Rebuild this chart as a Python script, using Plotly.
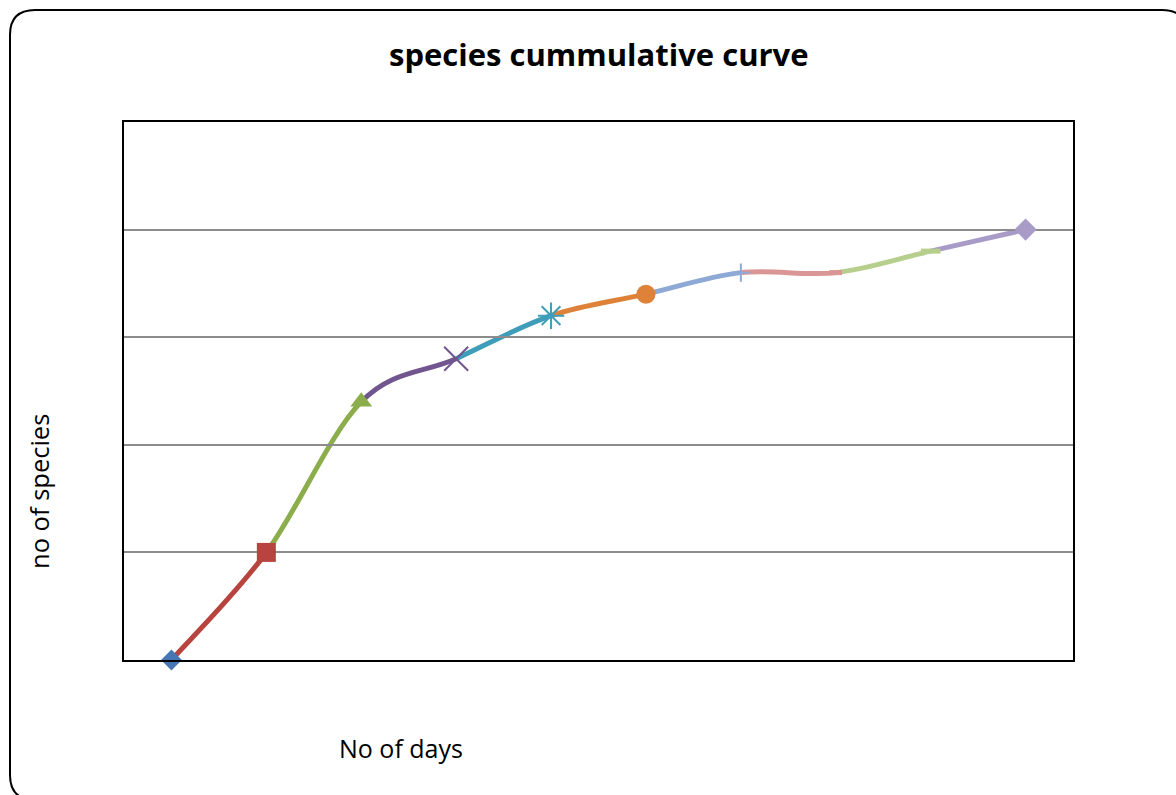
import plotly.graph_objects as go

# Cumulative species count per day
days = [1, 2, 3, 4, 5, 6, 7, 8, 9, 10]
species = [0, 5, 12, 14, 16, 17, 18, 18, 19, 20]

# Per-point styling (Office palette): marker colour, symbol, size
marker_colors = ["#4676B4", "#B8443F", "#8CAD4C", "#71558F", "#3E9DB8",
                 "#DD8238", "#8EA9D6", "#D99694", "#B7CF8D", "#A99BC8"]
line_colors = marker_colors
symbols = ["diamond", "square", "triangle-up", "x-thin-open", "asterisk-open",
           "circle", "cross-thin-open", "line-ew-open", "line-ew-open", "diamond"]
sizes = [16, 19, 19, 24, 22, 19, 13, 9, 14, 17]

fig = go.Figure()

# Smoothed (Catmull-Rom style) segments, each coloured by its end point
n = len(days)
shapes = []
for i in range(n - 1):
    p0 = (days[max(i - 1, 0)], species[max(i - 1, 0)])
    p1 = (days[i], species[i])
    p2 = (days[i + 1], species[i + 1])
    p3 = (days[min(i + 2, n - 1)], species[min(i + 2, n - 1)])
    c1 = (p1[0] + (p2[0] - p0[0]) / 6, p1[1] + (p2[1] - p0[1]) / 6)
    c2 = (p2[0] - (p3[0] - p1[0]) / 6, p2[1] - (p3[1] - p1[1]) / 6)
    path = f"M {p1[0]},{p1[1]} C {c1[0]},{c1[1]} {c2[0]},{c2[1]} {p2[0]},{p2[1]}"
    shapes.append(dict(type="path", path=path, xref="x", yref="y", layer="below",
                       line=dict(color=line_colors[i + 1], width=5)))

# Markers, one trace per point
for i in range(n):
    sym = symbols[i]
    lw = 2 if sym in ("x-thin-open", "asterisk-open", "cross-thin-open") else (5 if sym == "line-ew-open" else 0)
    fig.add_trace(go.Scatter(
        x=[days[i]], y=[species[i]], mode="markers", showlegend=False,
        marker=dict(symbol=sym, size=sizes[i], color=marker_colors[i],
                    line=dict(color=marker_colors[i], width=lw)),
        cliponaxis=False,
    ))

# Outer rounded chart frame (paper coordinates derived from pixel layout)
L, T, R, B = 124, 122, 1073, 660
W, H = R - L, B - T


def px(x):
    return (x - L) / W


def py(y):
    return (B - y) / H


x0, y0, x1, y1, r = 10, 10, 1187, 800, 25
frame = (f"M {px(x0 + r)},{py(y0)} L {px(x1 - r)},{py(y0)} "
         f"Q {px(x1)},{py(y0)} {px(x1)},{py(y0 + r)} L {px(x1)},{py(y1 - r)} "
         f"Q {px(x1)},{py(y1)} {px(x1 - r)},{py(y1)} L {px(x0 + r)},{py(y1)} "
         f"Q {px(x0)},{py(y1)} {px(x0)},{py(y1 - r)} L {px(x0)},{py(y0 + r)} "
         f"Q {px(x0)},{py(y0)} {px(x0 + r)},{py(y0)} Z")
shapes.append(dict(type="path", path=frame, xref="paper", yref="paper",
                   line=dict(color="black", width=2)))

font = "Open Sans, Noto Sans, sans-serif"
fig.update_layout(
    width=1176, height=795,
    margin=dict(l=L, r=1176 - R, t=T, b=795 - B),
    paper_bgcolor="white", plot_bgcolor="white",
    shapes=shapes,
    font=dict(family=font, color="black"),
    annotations=[
        dict(text="<b>species cummulative curve</b>", x=0.5, y=py(54),
             xref="paper", yref="paper", showarrow=False,
             xanchor="center", yanchor="middle", font=dict(size=31)),
        dict(text="no of species", x=px(39), y=py(492), xref="paper", yref="paper",
             showarrow=False, textangle=-90, xanchor="center", yanchor="middle",
             font=dict(size=25.5)),
        dict(text="No of days", x=px(401), y=py(748), xref="paper", yref="paper",
             showarrow=False, xanchor="center", yanchor="middle",
             font=dict(size=25)),
    ],
    xaxis=dict(range=[0.5, 10.5], showgrid=False, showticklabels=False, ticks="",
               zeroline=False, showline=True, mirror=True, linecolor="black",
               linewidth=1.5),
    yaxis=dict(range=[0, 25], dtick=5, showgrid=True, gridcolor="#8C8C8C",
               gridwidth=1.5, showticklabels=False, ticks="", zeroline=False,
               showline=True, mirror=True, linecolor="black", linewidth=1.5),
)

fig.write_html("out.html")
